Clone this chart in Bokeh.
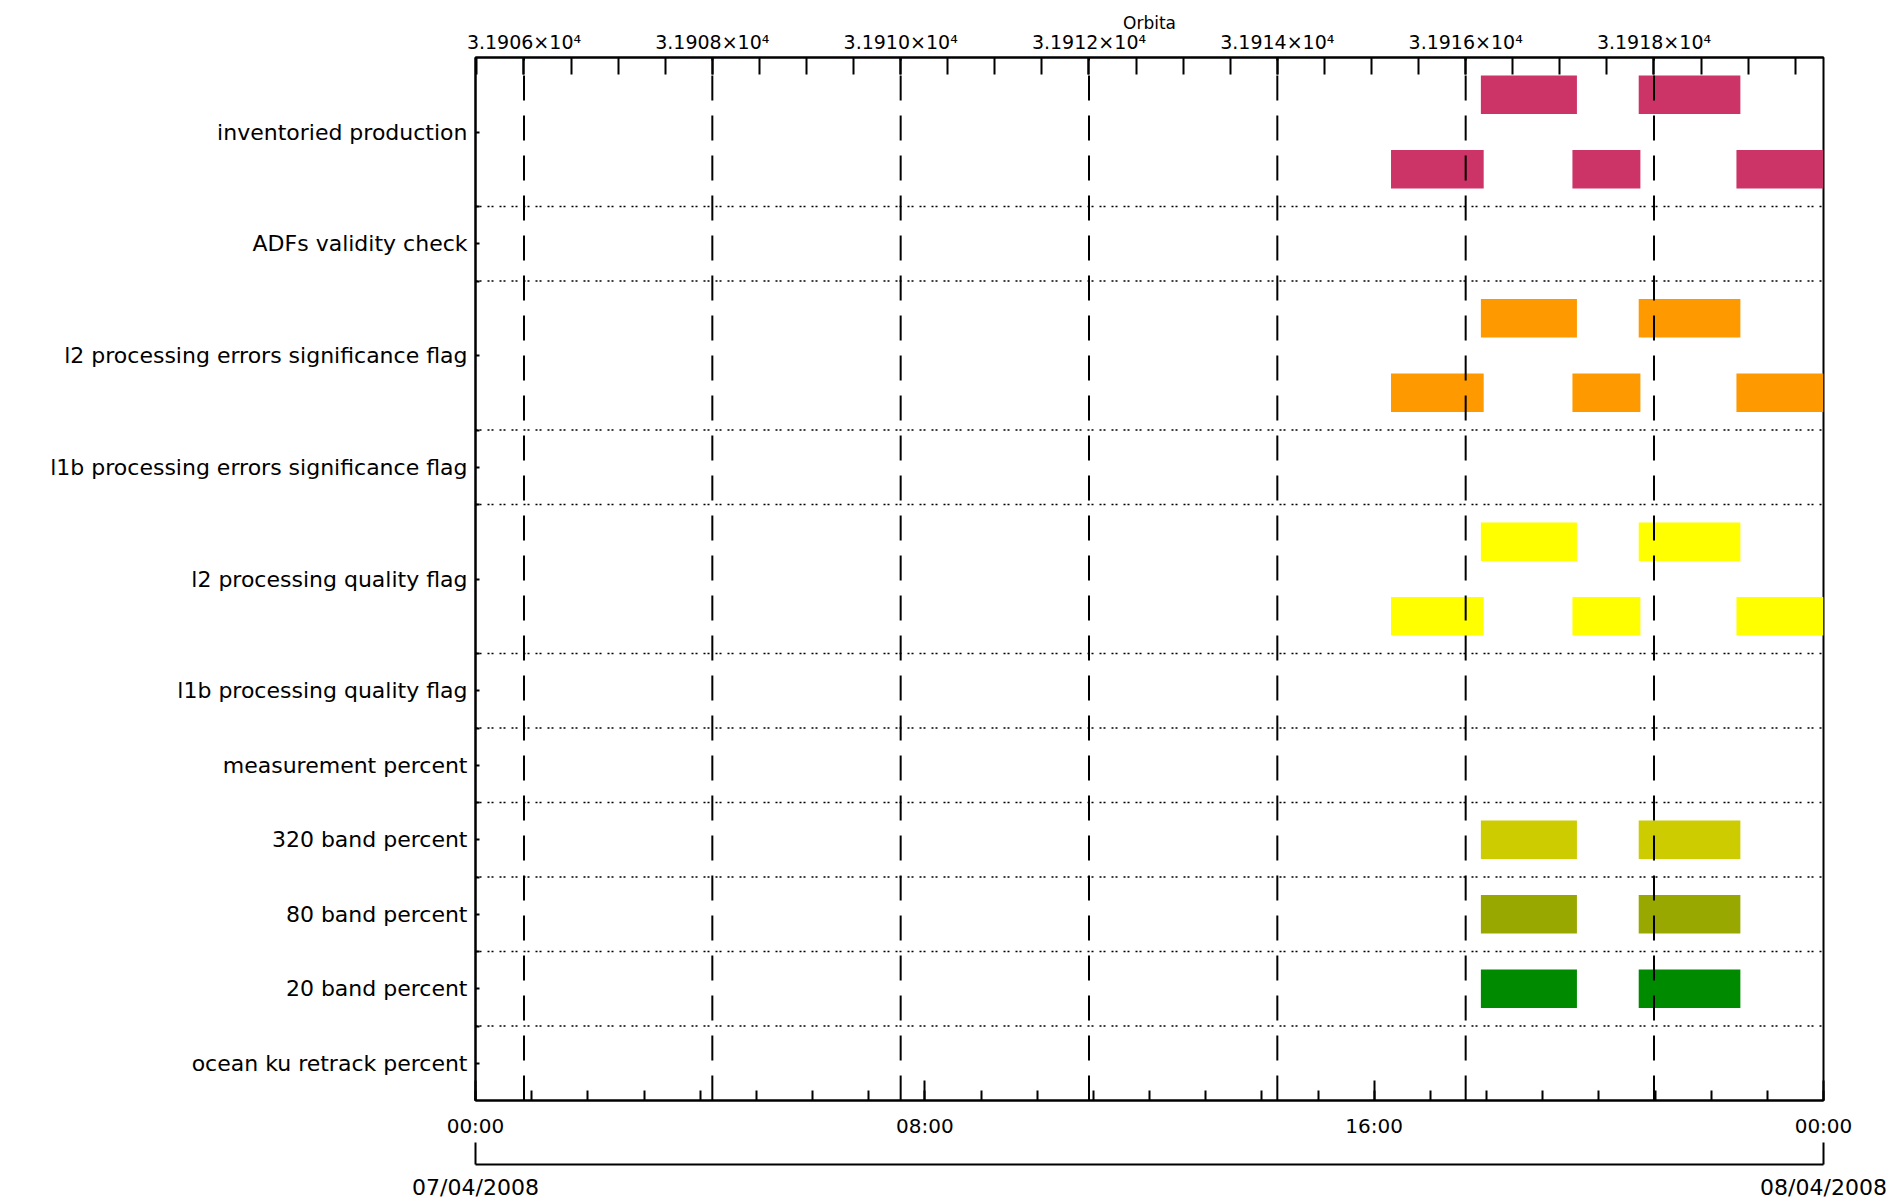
from bokeh.plotting import figure
from bokeh.models import Range1d, LinearAxis, FixedTicker
from bokeh.embed import file_html
from bokeh.resources import INLINE

# ---------------- data ----------------
categories = [
    "inventoried production",
    "ADFs validity check",
    "l2 processing errors significance flag",
    "l1b processing errors significance flag",
    "l2 processing quality flag",
    "l1b processing quality flag",
    "measurement percent",
    "320 band percent",
    "80 band percent",
    "20 band percent",
    "ocean ku retrack percent",
]
row_units = [2, 1, 2, 1, 2, 1, 1, 1, 1, 1, 1]

# hours of 07/04/2008 (upper sub-row and lower sub-row passes)
upper_start = [17.90, 20.71]
upper_end = [19.61, 22.52]
lower_start = [16.30, 19.53, 22.45]
lower_end = [17.95, 20.74, 24.00]

row_colors = {
    "inventoried production": "#CC3366",
    "l2 processing errors significance flag": "#FF9900",
    "l2 processing quality flag": "#FFFF00",
    "320 band percent": "#CCCC00",
    "80 band percent": "#99A800",
    "20 band percent": "#008A00",
}

orbit_major = [31906, 31908, 31910, 31912, 31914, 31916, 31918]
orbit_labels = ["3.1906×10⁴", "3.1908×10⁴", "3.1910×10⁴", "3.1912×10⁴",
                "3.1914×10⁴", "3.1916×10⁴", "3.1918×10⁴"]
orbit_minor = [31905.5 + 0.5 * i for i in range(29)]
orbit_start, orbit_end = 31905.485, 31919.80

hour_ticks = [0, 8, 16, 24]
hour_labels = ["00:00", "08:00", "16:00", "00:00"]
hour_minor = list(range(25))
date_ticks = [0, 24]
date_labels = ["07/04/2008", "08/04/2008"]

FONT = "DejaVu Sans"

# ---------------- layout of rows ----------------
total = sum(row_units)
tops, bottoms = [], []
t = total
for u in row_units:
    tops.append(t)
    bottoms.append(t - u)
    t -= u
centers = [(a + b) / 2 for a, b in zip(tops, bottoms)]
separators = sorted(set(bottoms[:-1]))

p = figure(
    width=None, height=None,
    frame_width=1348, frame_height=1043,
    x_range=Range1d(0, 24), y_range=Range1d(0, total),
    x_axis_location=None, y_axis_location=None,
    min_border_left=475, min_border_top=57, min_border_right=70, min_border_bottom=0,
    output_backend="svg", toolbar_location=None,
)
p.extra_x_ranges = {"orbit": Range1d(orbit_start, orbit_end)}
p.outline_line_color = "black"
p.outline_line_width = 2
p.background_fill_color = "white"
p.border_fill_color = "white"
for g in p.grid:
    g.visible = False

# bars
H = 0.26
for name, top, bot, u in zip(categories, tops, bottoms, row_units):
    if name not in row_colors:
        continue
    col = row_colors[name]
    if u == 2:
        yu = top - 0.5
        yl = bot + 0.5
        p.quad(left=lower_start, right=lower_end,
               bottom=[yl - H] * len(lower_start), top=[yl + H] * len(lower_start),
               fill_color=col, line_color=None)
    else:
        yu = (top + bot) / 2
    p.quad(left=upper_start, right=upper_end,
           bottom=[yu - H] * len(upper_start), top=[yu + H] * len(upper_start),
           fill_color=col, line_color=None)

# dotted separators
p.segment(x0=[0] * len(separators), x1=[24] * len(separators),
          y0=separators, y1=separators,
          line_color="black", line_width=1.6, line_dash="2 2 2 6")

# dashed orbit lines
p.segment(x0=orbit_major, x1=orbit_major,
          y0=[0] * len(orbit_major), y1=[total] * len(orbit_major),
          x_range_name="orbit", line_color="black", line_width=2, line_dash="25 15")

def style(ax, size):
    ax.axis_line_width = 2
    ax.major_tick_line_width = 2
    ax.minor_tick_line_width = 2
    ax.major_label_text_font = FONT
    ax.major_label_text_font_size = size
    ax.major_label_text_color = "black"
    ax.axis_label_text_font = FONT
    ax.axis_label_text_font_style = "normal"
    ax.axis_label_text_color = "black"
    ax.major_tick_out = 0
    ax.minor_tick_out = 0

# left axis (categories)
def key(v):
    return int(v) if float(v).is_integer() else v

left = LinearAxis(ticker=FixedTicker(ticks=centers, minor_ticks=separators),
                  major_label_overrides={key(c): n for c, n in zip(centers, categories)})
style(left, "22px")
left.major_tick_in = 4
left.minor_tick_in = 4
left.major_label_standoff = 8
p.add_layout(left, "left")

# top axis (orbits)
top_ax = LinearAxis(x_range_name="orbit",
                    ticker=FixedTicker(ticks=orbit_major, minor_ticks=orbit_minor),
                    major_label_overrides={o: l for o, l in zip(orbit_major, orbit_labels)},
                    axis_label="Orbita")
style(top_ax, "19px")
top_ax.major_tick_in = 17
top_ax.minor_tick_in = 17
top_ax.major_label_standoff = 5
top_ax.axis_label_standoff = -5
top_ax.axis_label_text_font_size = "17px"
p.add_layout(top_ax, "above")

# bottom axis (hours)
time_ax = LinearAxis(ticker=FixedTicker(ticks=hour_ticks, minor_ticks=hour_minor),
                     major_label_overrides={h: l for h, l in zip(hour_ticks, hour_labels)},
                     axis_label=" ")
style(time_ax, "20px")
time_ax.major_tick_in = 20
time_ax.minor_tick_in = 10
time_ax.major_label_standoff = 13
time_ax.axis_label_standoff = 1
time_ax.axis_label_text_font_size = "17px"
p.add_layout(time_ax, "below")

# bottom axis (dates)
date_ax = LinearAxis(ticker=FixedTicker(ticks=date_ticks, minor_ticks=[]),
                     major_label_overrides={d: l for d, l in zip(date_ticks, date_labels)})
style(date_ax, "22px")
date_ax.major_tick_in = 22
date_ax.major_label_standoff = 10
p.add_layout(date_ax, "below")

open("out.html", "w").write(file_html(p, INLINE))
